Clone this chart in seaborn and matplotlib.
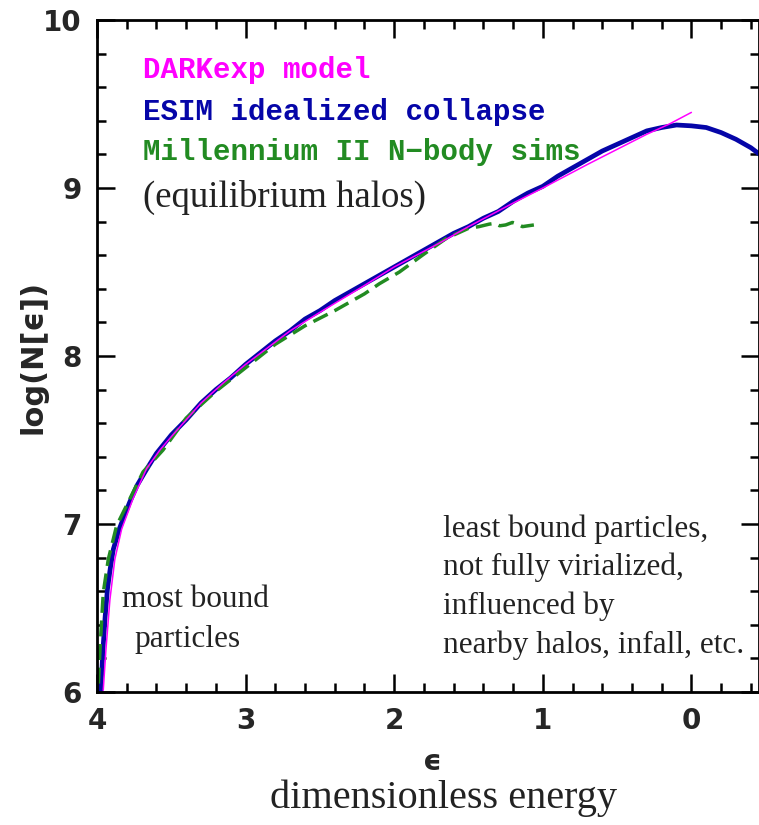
import matplotlib
matplotlib.use("Agg")
import matplotlib.pyplot as plt
from matplotlib.ticker import MultipleLocator, FixedLocator
import seaborn as sns

# Dimensionless energy (epsilon) and log10 N(epsilon) for each curve
esim_eps = [3.975, 3.96, 3.945, 3.93, 3.91, 3.89, 3.85, 3.82, 3.78, 3.73, 3.67,
            3.6, 3.5, 3.4, 3.3, 3.2, 3.1, 3.0, 2.9, 2.8, 2.7, 2.6, 2.5, 2.4,
            2.3, 2.2, 2.1, 2.0, 1.9, 1.8, 1.7, 1.6, 1.5, 1.4, 1.3, 1.2, 1.1,
            1.0, 0.9, 0.8, 0.7, 0.6, 0.5, 0.4, 0.3, 0.2, 0.1, 0.0, -0.1, -0.2,
            -0.3, -0.4, -0.46]
esim_logn = [6.0, 6.25, 6.45, 6.61, 6.74, 6.85, 6.97, 7.04, 7.13, 7.23, 7.32,
             7.42, 7.53, 7.62, 7.72, 7.80, 7.87, 7.95, 8.02, 8.09, 8.15, 8.22,
             8.27, 8.33, 8.38, 8.43, 8.48, 8.53, 8.58, 8.63, 8.68, 8.73, 8.77,
             8.82, 8.86, 8.92, 8.97, 9.01, 9.07, 9.12, 9.17, 9.22, 9.26, 9.30,
             9.34, 9.36, 9.375, 9.37, 9.36, 9.33, 9.29, 9.24, 9.20]

darkexp_eps = [3.958, 3.94, 3.913, 3.88, 3.834, 3.758, 3.666, 3.577, 3.5, 3.4,
               3.3, 3.15, 3.0, 2.85, 2.7, 2.5, 2.35, 2.2, 2.0, 1.85, 1.7, 1.5,
               1.35, 1.2, 1.0, 0.85, 0.7, 0.5, 0.3, 0.15, 0.0]
darkexp_logn = [6.01, 6.25, 6.55, 6.79, 6.97, 7.15, 7.33, 7.44, 7.52, 7.62,
                7.72, 7.84, 7.95, 8.05, 8.15, 8.26, 8.34, 8.42, 8.53, 8.60, 8.67,
                8.77, 8.84, 8.91, 9.00, 9.07, 9.14, 9.23, 9.32, 9.38, 9.45]

mill_eps = [3.99, 3.98, 3.958, 3.924, 3.868, 3.79, 3.69, 3.556, 3.4, 3.2, 3.0,
            2.8, 2.6, 2.4, 2.2, 2.1, 1.965, 1.81, 1.65, 1.5, 1.43, 1.36, 1.32,
            1.29, 1.25, 1.204, 1.17, 1.137, 1.1, 1.06]
mill_logn = [6.05, 6.25, 6.59, 6.79, 6.99, 7.13, 7.31, 7.44, 7.63, 7.79, 7.93,
             8.07, 8.18, 8.27, 8.37, 8.43, 8.50, 8.60, 8.70, 8.76, 8.77, 8.785,
             8.79, 8.775, 8.78, 8.795, 8.785, 8.77, 8.775, 8.78]

x_ticks = [4, 3, 2, 1, 0]
y_ticks = [6, 7, 8, 9, 10]

MAGENTA = "#ff00ff"
BLUE = "#0505a8"
GREEN = "#228b22"

sns.set_style("ticks")
plt.rcParams["font.family"] = ["DejaVu Sans"]

W, H = 759, 825
fig = plt.figure(figsize=(W / 100, H / 100), dpi=100)
ax = fig.add_axes([97 / W, 133 / H, 662 / W, 672 / H])

sns.lineplot(x=esim_eps, y=esim_logn, ax=ax, color=BLUE, linewidth=3.4,
             sort=False, estimator=None)
sns.lineplot(x=mill_eps, y=mill_logn, ax=ax, color=GREEN, linewidth=2.5,
             sort=False, estimator=None)
ax.lines[-1].set_linestyle((0, (4.6, 2.2)))
sns.lineplot(x=darkexp_eps, y=darkexp_logn, ax=ax, color=MAGENTA,
             linewidth=1.1, sort=False, estimator=None)

ax.set_xlim(4, -0.455)
ax.set_ylim(6, 10)
ax.xaxis.set_major_locator(FixedLocator(x_ticks))
ax.yaxis.set_major_locator(FixedLocator(y_ticks))
ax.xaxis.set_minor_locator(MultipleLocator(0.2))
ax.yaxis.set_minor_locator(MultipleLocator(0.2))
ax.set_xticklabels([str(t) for t in x_ticks])
ax.set_yticklabels([str(t) for t in y_ticks])
ax.tick_params(which="both", direction="in", top=True, right=True,
               color="black", width=1.8)
ax.tick_params(which="major", length=13, labelsize=20, pad=11)
ax.tick_params(which="minor", length=6.5)
for lab in ax.get_xticklabels() + ax.get_yticklabels():
    lab.set_fontweight("bold")
for s in ax.spines.values():
    s.set_linewidth(2.0)
    s.set_color("black")
ax.set_xlabel("")
ax.set_ylabel("")

# Legend-style captions in a typewriter face
mono = dict(family="Liberation Mono", fontweight="bold", fontsize=21,
            va="center", ha="left")
ax.text(3.69, 9.70, "DARKexp model", color=MAGENTA, **mono)
ax.text(3.69, 9.452, "ESIM idealized collapse", color=BLUE, **mono)
ax.text(3.69, 9.214, "Millennium II N\u2212body sims", color=GREEN, **mono)
ax.text(3.69, 8.946, "(equilibrium halos)", color="#222222",
        family="Liberation Serif", fontsize=26.5, va="center", ha="left")

serif = dict(family="Liberation Serif", fontsize=22.5, color="#222222",
             va="baseline")
ax.text(3.34, 6.508, "most bound", ha="center", **serif)
ax.text(3.39, 6.27, "particles", ha="center", **serif)
for yb, line in zip([6.923, 6.696, 6.464, 6.232],
                    ["least bound particles,", "not fully virialized,",
                     "influenced by", "nearby halos, infall, etc."]):
    ax.text(1.672, yb, line, ha="left", **serif)

# Axis titles
fig.text(432 / W, 1 - 762 / H, "\u03f5", fontsize=21, fontweight="bold",
         ha="center", va="center")
fig.text(33 / W, 1 - 357 / H, "log(N[\u03f5])", fontsize=22,
         fontweight="bold", rotation=90, ha="center", va="center")
fig.text(443 / W, 1 - 808 / H, "dimensionless energy",
         family="Liberation Serif", fontsize=29, color="#222222",
         ha="center", va="baseline")

fig.savefig("out.png", dpi=100)
